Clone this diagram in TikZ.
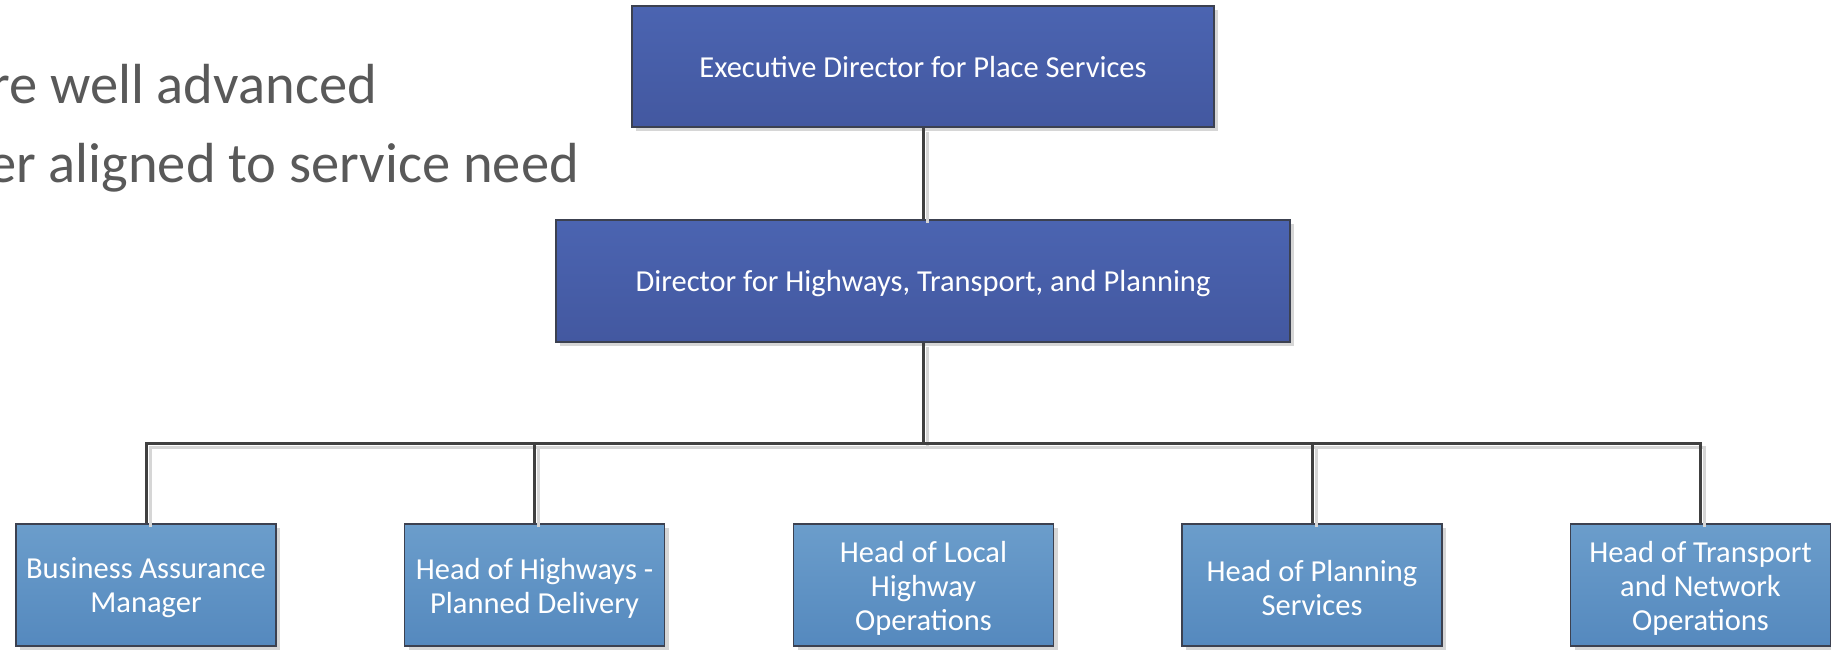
\documentclass[tikz,border=0pt]{standalone}
\usepackage{fontspec}
\setmainfont{Carlito}
\usetikzlibrary{shadows}
\definecolor{darkA}{HTML}{4B64B1}
\definecolor{darkB}{HTML}{4358A0}
\definecolor{lightA}{HTML}{6B9DCB}
\definecolor{lightB}{HTML}{5589BE}
\definecolor{bordercol}{HTML}{3C4150}
\definecolor{linecol}{HTML}{404040}
\definecolor{shadecol}{HTML}{D6D6D6}
\definecolor{textgray}{HTML}{595959}
\tikzset{
  boxbase/.style={draw=bordercol, line width=1.2pt, inner sep=0pt,
    drop shadow={shadow xshift=4pt, shadow yshift=-4pt, fill=shadecol, opacity=1}},
  boxtext/.style={text=white, font=\fontsize{30.5}{34}\selectfont, align=center,
    inner sep=0pt, yshift=-3pt},
  topbox/.style={boxbase, top color=darkA, bottom color=darkB,
    minimum width=582pt, minimum height=121pt},
  midbox/.style={boxbase, top color=darkA, bottom color=darkB,
    minimum width=734pt, minimum height=122pt},
  lowbox/.style={boxbase, top color=lightA, bottom color=lightB,
    minimum width=260pt, minimum height=122pt},
  conn/.style={draw=linecol, line width=3pt},
  connshadow/.style={draw=shadecol, line width=3pt, transform canvas={shift={(4pt,-4pt)}}},
  bullettext/.style={text=textgray, font=\fontsize{56.5}{68}\selectfont, anchor=base east, inner sep=0pt}
}
\begin{document}
\begin{tikzpicture}[x=1pt,y=-1pt]
\useasboundingbox (0,0) rectangle (1831,649);
\clip (0,0) rectangle (1831,649);
\fill[white] (0,0) rectangle (1831,649);

\node[bullettext] (t1) at (377,103) {ure well advanced};
\node[bullettext] (t2) at (579,182.5) {ter aligned to service need};

\coordinate (bus) at (923,443);

\node[topbox, label={[boxtext, yshift=2pt]center:Executive Director for Place Services}] (exec) at (923,66.5) {};
\node[midbox, label={[boxtext]center:Director for Highways, Transport, and Planning}] (dir) at (923,281) {};

\node[lowbox, label={[boxtext]center:Business Assurance\\Manager}] (b1) at (146,585) {};
\node[lowbox, label={[boxtext]center:Head of Highways -\\Planned Delivery}] (b2) at (534.5,585) {};
\node[lowbox, label={[boxtext]center:Head of Local\\Highway\\Operations}] (b3) at (923.5,585) {};
\node[lowbox, label={[boxtext]center:Head of Planning\\Services}] (b4) at (1312,585) {};
\node[lowbox, label={[boxtext]center:Head of Transport\\and Network\\Operations}] (b5) at (1700.5,585) {};

\draw[connshadow] (exec.south) -- (dir.north);
\draw[connshadow] (dir.south) -- (bus);
\draw[connshadow] (b1.north) |- (bus) -| (b5.north);
\draw[connshadow] (b2.north) -- (b2.north |- bus);
\draw[connshadow] (b4.north) -- (b4.north |- bus);

\draw[conn] (exec.south) -- (dir.north);
\draw[conn] (dir.south) -- (bus);
\draw[conn] (b1.north) |- (bus) -| (b5.north);
\draw[conn] (b2.north) -- (b2.north |- bus);
\draw[conn] (b4.north) -- (b4.north |- bus);
\end{tikzpicture}
\end{document}
